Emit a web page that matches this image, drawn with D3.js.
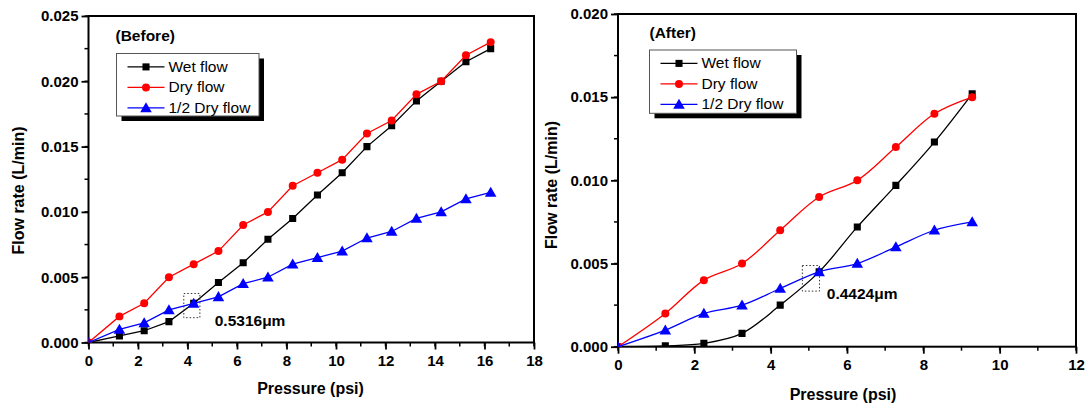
<!DOCTYPE html>
<html>
<head>
<meta charset="utf-8">
<script src="https://cdn.jsdelivr.net/npm/d3@7"></script>
<style>
  body { margin: 0; background: #fff; }
  svg { display: block; font-family: "Liberation Sans", Arial, sans-serif; }
  .tick-label { font-size: 15px; font-weight: bold; }
  .axis-title { font-size: 16px; font-weight: bold; }
  .legend-text { font-size: 15.5px; }
</style>
</head>
<body>
<svg id="chart" width="1091" height="412"></svg>
<script>
// ---- data: "Before" panel ----
const beforePressure = [0, 1.25, 2.25, 3.25, 4.25, 5.25, 6.25, 7.25, 8.25, 9.25, 10.25, 11.25, 12.25, 13.25, 14.25, 15.25, 16.25];
const beforeWet      = [0, 0.0005, 0.0009, 0.0016, 0.0030, 0.0046, 0.0061, 0.0079, 0.0095, 0.0113, 0.0130, 0.0150, 0.0166, 0.0185, 0.0200, 0.0215, 0.0225];
const beforeDry      = [0, 0.002, 0.003, 0.005, 0.006, 0.007, 0.009, 0.010, 0.012, 0.013, 0.014, 0.016, 0.017, 0.019, 0.020, 0.022, 0.023];
const beforeHalfDry  = [0, 0.001, 0.0015, 0.0025, 0.003, 0.0035, 0.0045, 0.005, 0.006, 0.0065, 0.007, 0.008, 0.0085, 0.0095, 0.010, 0.011, 0.0115];

// ---- data: "After" panel ----
const afterPressure = [0, 1.24, 2.25, 3.25, 4.25, 5.27, 6.27, 7.28, 8.29, 9.28];
const afterWet      = [0, 0.00005, 0.0002, 0.0008, 0.0025, 0.0045, 0.0072, 0.0097, 0.0123, 0.0152];
const afterDry      = [0, 0.002, 0.004, 0.005, 0.007, 0.009, 0.010, 0.012, 0.014, 0.015];
const afterHalfDry  = [0, 0.001, 0.002, 0.0025, 0.0035, 0.0045, 0.005, 0.006, 0.007, 0.0075];

const seriesNames = ["Wet flow", "Dry flow", "1/2 Dry flow"];
const seriesColors = ["#000000", "#ff0000", "#0000ff"];
const seriesSymbols = [d3.symbolSquare, d3.symbolCircle, d3.symbolTriangle];
const symbolSizes = [50, 50, 58];

const xTicksBefore = [0, 2, 4, 6, 8, 10, 12, 14, 16, 18];
const yTicksBefore = [0, 0.005, 0.010, 0.015, 0.020, 0.025];
const xTicksAfter = [0, 2, 4, 6, 8, 10, 12];
const yTicksAfter = [0, 0.005, 0.010, 0.015, 0.020];

const svg = d3.select("#chart");

function drawPanel(cfg) {
  const { left, top, right, bottom } = cfg.box;
  const x = d3.scaleLinear().domain(cfg.xDomain).range([left, right]);
  const y = d3.scaleLinear().domain(cfg.yDomain).range([bottom, top]);
  const g = svg.append("g");

  // clip for marks (origin markers are cut by the frame)
  const clipId = "clip-" + cfg.id;
  svg.append("clipPath").attr("id", clipId)
    .append("rect")
    .attr("x", left).attr("y", top)
    .attr("width", right - left).attr("height", bottom - top);

  // minor ticks
  const xMinor = d3.range(cfg.xDomain[0], cfg.xDomain[1] + 0.001, cfg.xMinorStep);
  const yMinor = d3.range(cfg.yDomain[0], cfg.yDomain[1] + 1e-9, cfg.yMinorStep);

  g.selectAll(".xminor").data(xMinor).enter().append("line")
    .attr("x1", d => x(d)).attr("x2", d => x(d))
    .attr("y1", bottom).attr("y2", bottom + 4)
    .attr("stroke", "#000").attr("stroke-width", 1.5);
  g.selectAll(".yminor").data(yMinor).enter().append("line")
    .attr("y1", d => y(d)).attr("y2", d => y(d))
    .attr("x1", left).attr("x2", left - 4)
    .attr("stroke", "#000").attr("stroke-width", 1.5);

  // major ticks via axis generators
  const xAxis = d3.axisBottom(x).tickValues(cfg.xTicks).tickSize(7).tickPadding(4)
    .tickFormat(d3.format("d"));
  const yAxis = d3.axisLeft(y).tickValues(cfg.yTicks).tickSize(7).tickPadding(3)
    .tickFormat(d3.format(".3f"));

  const gx = g.append("g").attr("transform", `translate(0,${bottom})`).call(xAxis);
  const gy = g.append("g").attr("transform", `translate(${left},0)`).call(yAxis);
  [gx, gy].forEach(a => {
    a.select(".domain").remove();
    a.selectAll(".tick line").attr("stroke", "#000").attr("stroke-width", 1.8);
    a.selectAll(".tick text").attr("class", "tick-label").attr("fill", "#000");
  });
  gx.selectAll(".tick text").attr("dy", "0.85em");

  // frame
  g.append("rect")
    .attr("x", left).attr("y", top)
    .attr("width", right - left).attr("height", bottom - top)
    .attr("fill", "none").attr("stroke", "#000").attr("stroke-width", 2);

  // axis titles
  g.append("text").attr("class", "axis-title")
    .attr("x", cfg.xTitle[0]).attr("y", cfg.xTitle[1])
    .attr("text-anchor", "middle").attr("dominant-baseline", "middle")
    .text("Pressure (psi)");
  g.append("text").attr("class", "axis-title")
    .attr("transform", `translate(${cfg.yTitle[0]},${cfg.yTitle[1]}) rotate(-90)`)
    .attr("text-anchor", "middle").attr("dominant-baseline", "middle")
    .text("Flow rate (L/min)");

  // series
  const marks = g.append("g").attr("clip-path", `url(#${clipId})`);
  const line = d3.line()
    .x(d => x(d[0])).y(d => y(d[1]))
    .curve(cfg.curve);

  cfg.series.forEach((vals, i) => {
    const pts = cfg.xs.map((p, j) => [p, vals[j]]);
    marks.append("path").datum(pts)
      .attr("d", line)
      .attr("fill", "none")
      .attr("stroke", seriesColors[i])
      .attr("stroke-width", 1.3);
    marks.selectAll(".m" + i).data(pts).enter().append("path")
      .attr("transform", d => `translate(${x(d[0])},${y(d[1]) + (i === 2 ? 1 : 0)})`)
      .attr("d", d3.symbol().type(seriesSymbols[i]).size(symbolSizes[i]))
      .attr("fill", seriesColors[i]);
  });

  // dotted box and pore-size label
  const b = cfg.markBox;
  g.append("rect")
    .attr("x", x(b[0])).attr("y", y(b[3]))
    .attr("width", x(b[1]) - x(b[0])).attr("height", y(b[2]) - y(b[3]))
    .attr("fill", "none").attr("stroke", "#333").attr("stroke-width", 1)
    .attr("stroke-dasharray", "1.5,2");
  g.append("text").attr("class", "axis-title")
    .attr("x", x(cfg.labelAt[0])).attr("y", y(cfg.labelAt[1]))
    .attr("dominant-baseline", "middle")
    .style("font-size", "15.5px")
    .text(cfg.poreLabel);

  // panel tag
  g.append("text").attr("class", "axis-title")
    .attr("x", cfg.tag.x).attr("y", cfg.tag.y)
    .attr("dominant-baseline", "middle")
    .style("font-size", "15.5px")
    .text(cfg.tag.text);

  // legend
  const L = cfg.legend;
  const lg = g.append("g");
  lg.append("rect")
    .attr("x", L.x + 5).attr("y", L.y + 5).attr("width", L.w).attr("height", L.h)
    .attr("fill", "#000");
  lg.append("rect")
    .attr("x", L.x).attr("y", L.y).attr("width", L.w).attr("height", L.h)
    .attr("fill", "#fff").attr("stroke", "#555").attr("stroke-width", 1);
  seriesNames.forEach((name, i) => {
    const cy = L.y + 13.4 + i * 20.5;
    lg.append("line")
      .attr("x1", L.x + 11).attr("x2", L.x + 48)
      .attr("y1", cy).attr("y2", cy)
      .attr("stroke", seriesColors[i]).attr("stroke-width", 1.3);
    lg.append("path")
      .attr("transform", `translate(${L.x + 29.5},${cy + (i === 2 ? 1 : 0)})`)
      .attr("d", d3.symbol().type(seriesSymbols[i]).size(symbolSizes[i]))
      .attr("fill", seriesColors[i]);
    lg.append("text").attr("class", "legend-text")
      .attr("x", L.x + 52).attr("y", cy + 1)
      .attr("dominant-baseline", "middle")
      .text(name);
  });
}

drawPanel({
  id: "before",
  box: { left: 88.5, top: 16, right: 534, bottom: 342.5 },
  xDomain: [0, 18], yDomain: [0, 0.025],
  xTicks: xTicksBefore, yTicks: yTicksBefore,
  xMinorStep: 1, yMinorStep: 0.0025,
  xs: beforePressure,
  series: [beforeWet, beforeDry, beforeHalfDry],
  curve: d3.curveLinear,
  markBox: [3.85, 4.5, 0.0019, 0.00375],
  labelAt: [5.1, 0.0016],
  poreLabel: "0.5316\u03bcm",
  tag: { x: 115.5, y: 37, text: "(Before)" },
  legend: { x: 116.5, y: 53.5, w: 142.5, h: 62.5 },
  xTitle: [310.5, 389.5], yTitle: [20, 190.5]
});

drawPanel({
  id: "after",
  box: { left: 618, top: 14, right: 1076, bottom: 346.7 },
  xDomain: [0, 12], yDomain: [0, 0.020],
  xTicks: xTicksAfter, yTicks: yTicksAfter,
  xMinorStep: 1, yMinorStep: 0.0025,
  xs: afterPressure,
  series: [afterWet, afterDry, afterHalfDry],
  curve: d3.curveCatmullRom.alpha(0.5),
  markBox: [4.83, 5.28, 0.00334, 0.00488],
  labelAt: [5.47, 0.0031],
  poreLabel: "0.4424\u03bcm",
  tag: { x: 649.5, y: 34, text: "(After)" },
  legend: { x: 649.5, y: 50, w: 147, h: 63.3 },
  xTitle: [843, 395.7], yTitle: [553, 185]
});
</script>
</body>
</html>
